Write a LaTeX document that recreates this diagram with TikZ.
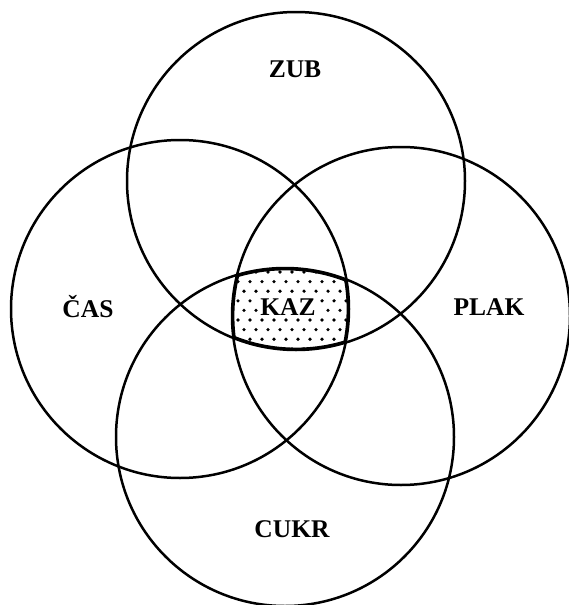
\documentclass[tikz,border=0pt]{standalone}
\usepackage{fontspec}
\setmainfont{Liberation Serif}
\begin{document}
\begin{tikzpicture}[x=1pt,y=-1pt,
  venn/.style={circle,draw=black,line width=2.5pt,minimum size=338pt,inner sep=0pt},
  lbl/.style={font=\fontsize{25.5}{26}\selectfont\bfseries,inner sep=0pt}]
\useasboundingbox[fill=white] (0,0) rectangle (569,605);
\node[venn] (zub) at (296,181) {};
\node[venn] (cukr) at (285,437) {};
\node[venn] (cas) at (180,309) {};
\node[venn] (plak) at (401,316) {};
\begin{scope}
  \clip (296,181) circle[radius=169pt];
  \clip (285,437) circle[radius=169pt];
  \clip (180,309) circle[radius=169pt];
  \clip (401,316) circle[radius=169pt];
  \foreach \j in {0,...,8}{
    \pgfmathsetmacro{\off}{mod(\j,2)*6}
    \foreach \i in {0,...,10}{
      \fill (232+\off+\i*12, 272+\j*9.6) circle[radius=1.8pt];
    }
  }
  \draw[line width=4.8pt] (296,181) circle[radius=169pt];
  \draw[line width=4.8pt] (285,437) circle[radius=169pt];
  \draw[line width=4.8pt] (180,309) circle[radius=169pt];
  \draw[line width=4.8pt] (401,316) circle[radius=169pt];
\end{scope}
\node[lbl] (tzub) at (295,69) {ZUB};
\node[lbl] (tcukr) at (292,529) {CUKR};
\node[lbl] (tcas) at (88,307) {ČAS};
\node[lbl] (tplak) at (489,307) {PLAK};
\node[lbl,fill=white,inner sep=2pt] (tkaz) at (288,307) {KAZ};
\end{tikzpicture}
\end{document}
